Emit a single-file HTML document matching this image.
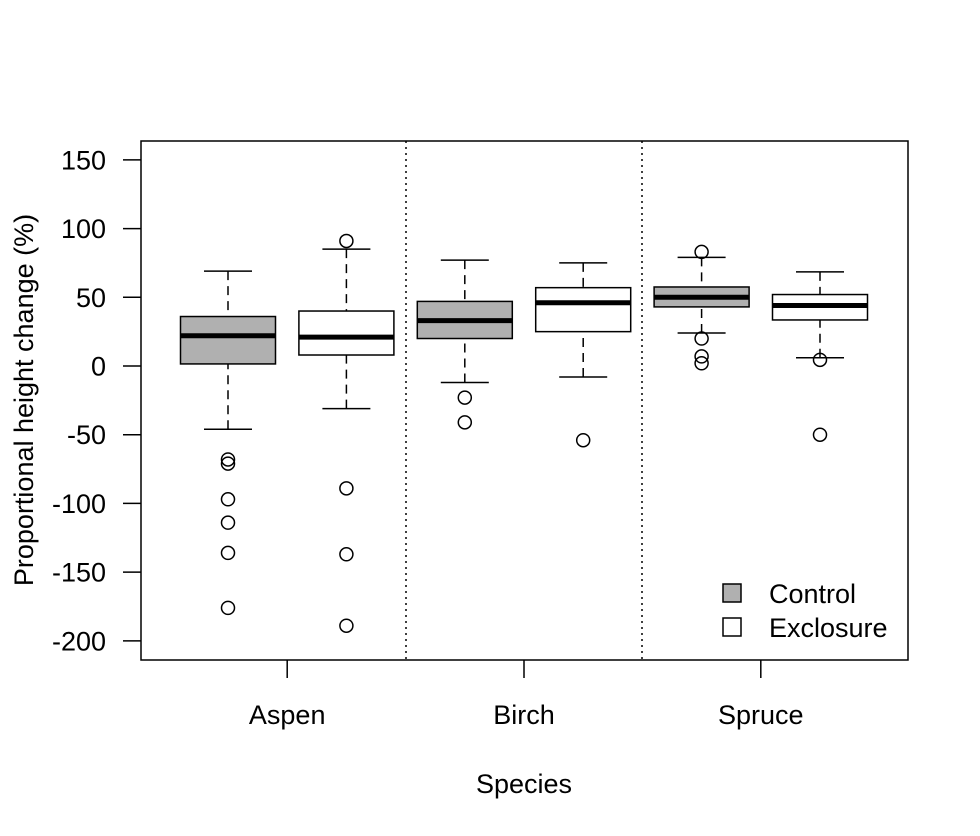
<!DOCTYPE html>
<html><head><meta charset="utf-8"><style>body{margin:0;background:#fff}svg{display:block;font-family:"Liberation Sans",Arial,sans-serif}</style></head>
<body>
<svg id="chart" width="980" height="836" xmlns="http://www.w3.org/2000/svg"></svg>
<script>
const categories=["Aspen","Birch","Spruce"];
const groups=["Control","Exclosure"];
// [lowerWhisker,Q1,median,Q3,upperWhisker] per box: Aspen C, Aspen E, Birch C, Birch E, Spruce C, Spruce E
const lowWhisk=[-46,-31,-12,-8,24,6];
const q1=[1.5,8,20,25,43,33.5];
const medians=[22,21,33,46,50,44];
const q3=[36,40,47,57,57.5,52];
const upWhisk=[69,85,77,75,79,68.5];
const outliers=[[-68,-71,-97,-114,-136,-176],[91,-89,-137,-189],[-23,-41],[-54],[83,20,7,2],[4.5,-50]];
const yTicks=[150,100,50,0,-50,-100,-150,-200];

const NS="http://www.w3.org/2000/svg",svg=document.getElementById('chart');
function el(t,a,p){const e=document.createElementNS(NS,t);for(const k in a)e.setAttribute(k,a[k]);(p||svg).appendChild(e);return e;}
const y=v=>366-v*1.3743;
const x=i=>228+i*118.4;
const hw=47.5,cw=24,FS=27;
// frame
const fr=el('rect',{x:141,y:141,width:767,height:519,fill:'none',stroke:'#000','stroke-width':1.5});

[406,642].forEach((px,i)=>{const l=el('line',{x1:px,x2:px,y1:141,y2:660,stroke:'#000','stroke-width':1.5,'stroke-dasharray':'2,4'});
});
// y axis ticks
yTicks.forEach(v=>{el('line',{x1:123,x2:141,y1:y(v),y2:y(v),stroke:'#000','stroke-width':1.5});
const t=el('text',{x:106,y:y(v)+9.5,'text-anchor':'end','font-size':FS});t.textContent=v;
});
const yt=el('text',{transform:'translate(33,400) rotate(-90)','text-anchor':'middle','font-size':FS});yt.textContent='Proportional height change (%)';

// x axis ticks
categories.forEach((c,i)=>{const cx=(x(2*i)+x(2*i+1))/2;
el('line',{x1:cx,x2:cx,y1:660,y2:678,stroke:'#000','stroke-width':1.5});
const t=el('text',{x:cx,y:724,'text-anchor':'middle','font-size':FS});t.textContent=c;
});
const xt=el('text',{x:524,y:793,'text-anchor':'middle','font-size':FS});xt.textContent='Species';

// boxes
medians.forEach((m,i)=>{const cx=x(i);const fill=i%2==0?'#b0b0b0':'#fff';
const g=el('g',{});
el('line',{x1:cx,x2:cx,y1:y(upWhisk[i]),y2:y(q3[i]),stroke:'#000','stroke-width':1.5,'stroke-dasharray':'9,6'},g);
el('line',{x1:cx,x2:cx,y1:y(lowWhisk[i]),y2:y(q1[i]),stroke:'#000','stroke-width':1.5,'stroke-dasharray':'9,6'},g);
el('line',{x1:cx-cw,x2:cx+cw,y1:y(upWhisk[i]),y2:y(upWhisk[i]),stroke:'#000','stroke-width':1.5},g);
el('line',{x1:cx-cw,x2:cx+cw,y1:y(lowWhisk[i]),y2:y(lowWhisk[i]),stroke:'#000','stroke-width':1.5},g);
el('rect',{x:cx-hw,y:y(q3[i]),width:2*hw,height:y(q1[i])-y(q3[i]),fill:fill,stroke:'#000','stroke-width':1.5},g);
el('line',{x1:cx-hw,x2:cx+hw,y1:y(m),y2:y(m),stroke:'#000','stroke-width':5},g);
outliers[i].forEach(o=>{const c=el('circle',{cx:cx,cy:y(o),r:6.5,fill:'none',stroke:'#000','stroke-width':1.5},g);
});
});
// legend
groups.forEach((gname,i)=>{const ly=593+i*34;
const r=el('rect',{x:723,y:ly-9,width:18,height:18,fill:i==0?'#b0b0b0':'#fff',stroke:'#000','stroke-width':1.5});

const t=el('text',{x:769,y:ly+10,'font-size':FS});t.textContent=gname;
});
</script>
</body></html>
